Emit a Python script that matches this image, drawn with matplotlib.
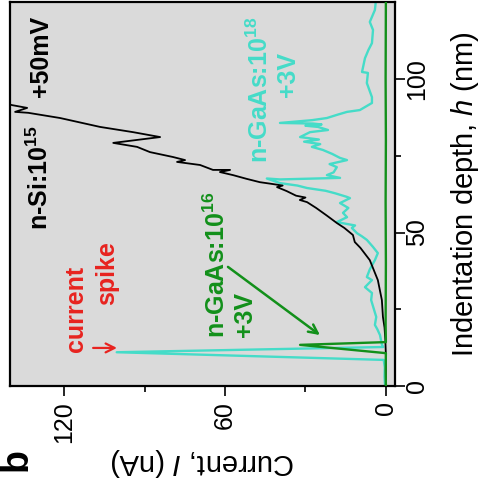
import matplotlib
matplotlib.use("Agg")
import matplotlib.pyplot as plt
from matplotlib.ticker import FixedLocator

plt.rcParams['font.family'] = ['Liberation Sans', 'DejaVu Sans']
plt.rcParams['mathtext.fontset'] = 'custom'
plt.rcParams['mathtext.rm'] = 'Liberation Sans'
plt.rcParams['mathtext.it'] = 'Liberation Sans:italic'
plt.rcParams['mathtext.bf'] = 'Liberation Sans:bold'

# n-Si:10^15 at +50 mV  (current nA, depth nm)
si_current = [0.0, 0.0, 0.2, 0.5, 1.1, 1.5, 3.0, 6.0, 9.5, 11.6, 12.3, 15.5, 18.3,
              22.0, 26.0, 29.4, 32.1, 30.0, 33.5, 37.0, 40.6, 38.5, 43.0, 47.0,
              52.0, 57.0, 61.9, 58.1, 64.5, 69.3, 77.9, 74.9, 79.4, 88.0, 92.8,
              101.7, 84.2, 94.3, 106.6, 121.5, 133.4, 138.3, 133.8, 139.4, 146.0]
si_depth = [0.0, 10.0, 15.0, 19.0, 22.5, 28.0, 34.5, 41.0, 45.0, 46.9, 49.2, 51.5, 53.1,
            55.5, 58.0, 59.9, 60.6, 61.4, 62.0, 63.5, 64.8, 65.3, 65.9, 66.4,
            67.5, 68.7, 69.7, 70.4, 70.4, 72.0, 73.0, 73.6, 74.6, 76.2, 77.9,
            79.2, 81.1, 82.7, 84.4, 87.3, 89.0, 89.3, 90.6, 91.5, 93.0]

# n-GaAs:10^18 at +3 V
gaas18_current = [0.3, 0.5, 0.4, 0.8, 100.4, 1.0, 1.5, 2.2, 3.2, 4.1, 3.6, 4.5, 5.5,
                  5.2, 7.8, 5.2, 7.1, 6.0, 4.1, 3.0, 4.8, 7.1, 9.0, 10.8, 12.7, 11.5,
                  18.3, 14.5, 16.0, 14.0, 17.1, 13.4, 14.5, 19.0, 22.5, 29.4, 33.0,
                  39.5, 44.4, 39.5, 17.1, 22.0, 19.5, 18.3, 21.0, 14.5, 17.1, 20.0,
                  23.5, 27.6, 24.5, 30.5, 25.0, 32.0, 28.3, 21.6, 25.3, 30.0, 24.0,
                  27.2, 39.5, 27.6, 22.0, 18.0, 14.5, 9.7, 5.2, 5.2, 7.1, 6.7, 8.9,
                  7.8, 6.5, 5.2, 4.8, 6.0, 4.1, 3.7]
gaas18_depth = [0.0, 3.0, 6.0, 8.5, 11.0, 12.7, 13.5, 16.6, 18.5, 19.9, 22.5, 25.1, 28.0,
                30.3, 32.2, 34.5, 35.5, 38.0, 41.0, 43.3, 45.3, 47.6, 48.8, 49.8, 51.5,
                52.3, 53.4, 55.0, 56.4, 58.0, 59.6, 61.2, 61.6, 62.8, 63.6, 64.5, 65.3,
                66.1, 67.6, 67.3, 67.8, 68.7, 69.6, 71.3, 72.3, 73.6, 74.3, 75.6,
                76.9, 77.9, 78.8, 79.6, 80.3, 81.1, 82.7, 83.4, 84.4, 84.8, 85.2,
                85.5, 85.7, 86.6, 87.3, 88.4, 89.3, 89.9, 92.2, 94.1, 98.7, 102.0, 102.3,
                106.8, 109.5, 111.7, 116.0, 118.6, 122.5, 125.7]

# n-GaAs:10^16 at +3 V
gaas16_current = [0.0, 0.1, 0.0, 32.0, 0.0, 0.1, 0.0, 0.1, 0.0, 0.1, 0.0]
gaas16_depth = [0.0, 5.0, 10.7, 13.4, 14.3, 20.0, 40.0, 60.0, 80.0, 100.0, 126.0]

current_ticks = [0, 60, 120]
current_minor = [30, 90]
depth_ticks = [0, 50, 100]
depth_minor = [25, 75]

BLACK = '#000000'
CYAN = '#45dcc8'
GREEN = '#12901a'
RED = '#e8231f'

fig = plt.figure(figsize=(4.84, 4.84), dpi=100)
ax = fig.add_axes([10 / 484, 1 - 386 / 484, 385 / 484, 384 / 484])
ax.set_facecolor('#dadada')

ax.plot(gaas18_current, gaas18_depth, color=CYAN, lw=1.7, zorder=2)
ax.plot(si_current, si_depth, color=BLACK, lw=1.3, zorder=3)
ax.plot(gaas16_current, gaas16_depth, color=GREEN, lw=1.7, zorder=4)

ax.set_xlim(140.2, -3.4)
ax.set_ylim(0, 125.1)

for s in ax.spines.values():
    s.set_linewidth(1.6)

ax.xaxis.set_major_locator(FixedLocator(current_ticks))
ax.xaxis.set_minor_locator(FixedLocator(current_minor))
ax.yaxis.set_major_locator(FixedLocator(depth_ticks))
ax.yaxis.set_minor_locator(FixedLocator(depth_minor))
ax.yaxis.tick_right()
ax.yaxis.set_label_position('right')
ax.tick_params(axis='both', which='major', direction='out', length=7, width=1.2,
               labelsize=18)
ax.tick_params(axis='both', which='minor', direction='out', length=4.5, width=1.2)
ax.tick_params(axis='x', labelrotation=90, pad=4)
ax.tick_params(axis='y', labelrotation=90, pad=0.5)
for lab in ax.get_yticklabels():
    lab.set_verticalalignment('center')

ax.set_xlabel('Current, $\\mathit{I}$ (nA)', fontsize=21, rotation=180, labelpad=2)
ax.set_ylabel('Indentation depth, $\\mathit{h}$ (nm)', fontsize=21, rotation=90,
              labelpad=14)

txt = dict(rotation=90, rotation_mode='anchor', ha='left', va='baseline',
           fontsize=18, fontweight='bold')
ax.text(126, 50.8, 'n-Si:10$\\mathbf{^{15}}$', color=BLACK, **txt)
ax.text(126, 94.1, '+50mV', color=BLACK, **txt)
ax.text(113.1, 11.1, 'current', color=RED, **txt)
ax.text(101.5, 26.4, 'spike', color=RED, **txt)
ax.text(60, 15.6, 'n-GaAs:10$\\mathbf{^{16}}$', color=GREEN, **txt)
ax.text(50, 16.0, '+3V', color=GREEN, **txt)
ax.text(44, 72.6, 'n-GaAs:10$\\mathbf{^{18}}$', color=CYAN, **txt)
ax.text(33.9, 94.1, '+3V', color=CYAN, **txt)

ax.annotate('', xy=(100.3, 12.4), xytext=(109.2, 12.4),
            arrowprops=dict(arrowstyle='->', color=RED, lw=1.6,
                            mutation_scale=16, shrinkA=0, shrinkB=0))
ax.annotate('', xy=(24.6, 16.6), xytext=(58.9, 38.8),
            arrowprops=dict(arrowstyle='->', color=GREEN, lw=1.8,
                            mutation_scale=16, shrinkA=0, shrinkB=0))

fig.text(17 / 484, 1 - 460 / 484, 'b', rotation=90, fontsize=27, fontweight='bold',
         ha='center', va='center')

fig.savefig('out.png', dpi=100)
